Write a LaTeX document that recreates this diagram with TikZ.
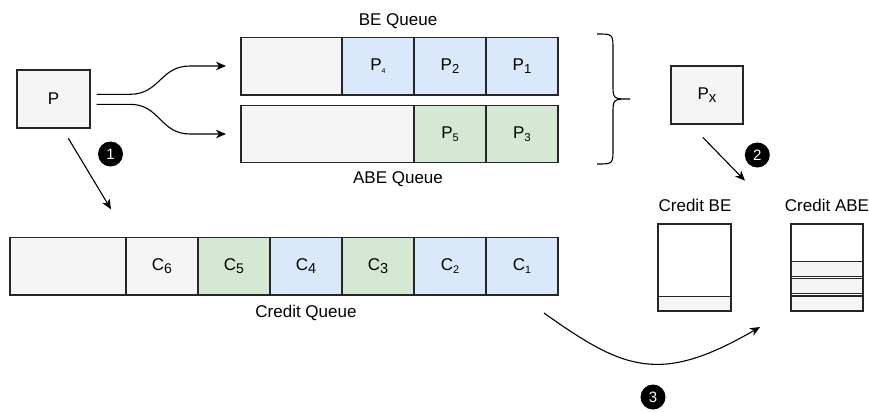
\documentclass[tikz,border=0pt]{standalone}
\usepackage{fontspec}
\setmainfont{Liberation Sans}
\usetikzlibrary{arrows.meta}
\definecolor{cellgray}{HTML}{F5F5F5}
\definecolor{cellblue}{HTML}{DAE8FC}
\definecolor{cellgreen}{HTML}{D5E8D4}
\newcommand{\qsub}[3]{#1\raisebox{-3.5pt}{\fontsize{#3}{#3}\selectfont #2}}
\begin{document}
\begin{tikzpicture}[x=1pt,y=-1pt,
  every node/.style={font=\fontsize{17}{20}\selectfont},
  cell/.style={draw=black!85, line width=1.2pt, inner sep=0pt, outer sep=0pt,
               minimum width=72pt, minimum height=57.5pt},
  emptyfill/.style={fill=cellgray},
  bluefill/.style={fill=cellblue},
  greenfill/.style={fill=cellgreen},
  band/.style={draw=black!85, line width=1.2pt, fill=cellgray},
  flow/.style={line width=1.1pt, -{Stealth[length=10pt,width=8.5pt,inset=3pt]}},
  badge/.style={circle, fill=black, inner sep=0pt, minimum size=25pt,
                text=white, font=\fontsize{15}{15}\selectfont},
  caption/.style={inner sep=0pt}]
\useasboundingbox (0,0) rectangle (869,412);

% source packet
\node[cell, emptyfill, minimum width=73pt, minimum height=58pt] (P) at (53.5,99) {P};

% BE queue
\node[cell, emptyfill, minimum width=101pt] (be0) at (291.5,66.2) {};
\node[cell, bluefill] (be4) at (378,66.2) {\qsub{P}{4}{7}};
\node[cell, bluefill] (be2) at (450,66.2) {\qsub{P}{2}{13}};
\node[cell, bluefill] (be1) at (522,66.2) {\qsub{P}{1}{13}};
\node[caption] (beq) at (398,21) {BE Queue};

% ABE queue
\node[cell, emptyfill, minimum width=173pt] (abe0) at (327.5,134) {};
\node[cell, greenfill] (abe5) at (450,134) {\qsub{P}{5}{11}};
\node[cell, greenfill] (abe3) at (522,134) {\qsub{P}{3}{11.5}};
\node[caption] (abeq) at (398,179.5) {ABE Queue};

% credit queue
\node[cell, emptyfill, minimum width=116pt] (c0) at (68,266.3) {};
\node[cell, emptyfill] (c6) at (162,266.3) {\qsub{C}{6}{14}};
\node[cell, greenfill] (c5) at (234,266.3) {\qsub{C}{5}{14}};
\node[cell, bluefill] (c4) at (306,266.3) {\qsub{C}{4}{14.5}};
\node[cell, greenfill] (c3) at (378,266.3) {\qsub{C}{3}{14.5}};
\node[cell, bluefill] (c2) at (450,266.3) {\qsub{C}{2}{11}};
\node[cell, bluefill] (c1) at (522,266.3) {\qsub{C}{1}{10.5}};
\node[caption] (cq) at (306,312.5) {Credit Queue};

% dequeued packet
\node[cell, emptyfill, minimum width=72pt, minimum height=58pt] (Px) at (707,95) {\qsub{P}{x}{15}};

% curly brace gathering both queues
\draw[line width=1.1pt] (597,34) .. controls (613,34) .. (613,50) -- (613,84)
  .. controls (613,99) .. (630,99) .. controls (613,99) .. (613,114)
  -- (613,148) .. controls (613,164) .. (597,164);

% credit counters
\node[caption] (cbe) at (695,205) {Credit BE};
\node[caption] (cabe) at (827,205) {Credit ABE};
\node[cell, fill=white, minimum width=73pt, minimum height=87pt] (kbe) at (694.5,267.5) {};
\node[cell, fill=white, minimum width=72pt, minimum height=87pt] (kabe) at (827,267.5) {};
\draw[band] (kbe.west |- 0,296.7) rectangle (kbe.south east);
\draw[band] (kabe.west |- 0,261.7) rectangle (kabe.east |- 0,276.3);
\draw[band] (kabe.west |- 0,278.3) rectangle (kabe.east |- 0,293.3);
\draw[band] (kabe.west |- 0,296) rectangle (kabe.south east);

% connector end points
\coordinate (s1) at (68.3,138.3);
\coordinate (e1) at (111,209.3);
\coordinate (sb) at (96.7,94.3);
\coordinate (eb) at (226,66);
\coordinate (sa) at (96.7,104.3);
\coordinate (ea) at (226,134);
\coordinate (s2) at (702.7,137.3);
\coordinate (e2) at (745,180.7);
\coordinate (s3) at (544,313);
\coordinate (e3) at (760,327);

% enqueue into BE / ABE queues
\draw[flow] (sb) -- (130,94.3) .. controls (160,94.3) and (160,66) .. (190,66) -- (eb);
\draw[flow] (sa) -- (130,104.3) .. controls (160,104.3) and (160,134) .. (190,134) -- (ea);
% step 1: credit issued
\draw[flow] (s1) -- (e1);
% step 2: credit consumed
\draw[flow] (s2) -- (e2);
% step 3: credits returned
\draw[flow] (s3) .. controls (624,370) and (660,385) .. (e3);

% step badges
\node[badge] (n1) at (110.5,154) {1};
\node[badge] (n2) at (757.3,155) {2};
\node[badge] (n3) at (653,397) {3};
\end{tikzpicture}
\end{document}
